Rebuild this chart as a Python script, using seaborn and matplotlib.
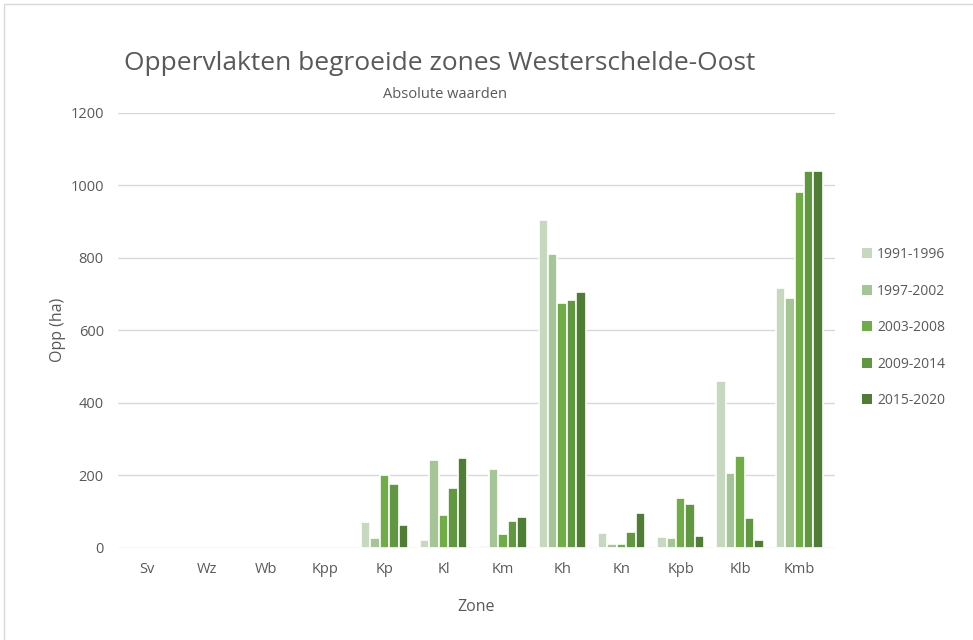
import pandas as pd
import matplotlib.pyplot as plt
import seaborn as sns
from matplotlib.patches import Rectangle

# Data
zones = ['Sv', 'Wz', 'Wb', 'Kpp', 'Kp', 'Kl', 'Km', 'Kh', 'Kn', 'Kpb', 'Klb', 'Kmb']
periods = ['1991-1996', '1997-2002', '2003-2008', '2009-2014', '2015-2020']
opp_1991 = [0, 0, 0, 0, 72, 21, 5, 905, 42, 31, 460, 716]
opp_1997 = [0, 0, 0, 0, 28, 243, 217, 810, 10, 27, 206, 688]
opp_2003 = [0, 0, 0, 0, 201, 91, 38, 676, 10, 138, 253, 982]
opp_2009 = [0, 0, 0, 0, 175, 164, 75, 683, 43, 121, 81, 1038]
opp_2015 = [0, 0, 0, 0, 64, 248, 85, 705, 96, 33, 22, 1038]
colors = ['#c6d8bd', '#a6c596', '#70ad47', '#5f9840', '#4e7d33']

series = [opp_1991, opp_1997, opp_2003, opp_2009, opp_2015]
rows = []
for period, vals in zip(periods, series):
    for z, v in zip(zones, vals):
        rows.append({'Zone': z, 'Periode': period, 'Opp': v})
df = pd.DataFrame(rows)

sns.set_style('white')
plt.rcParams['font.family'] = ['Open Sans', 'DejaVu Sans']
grey = '#595959'

fig = plt.figure(figsize=(9.73, 6.4), dpi=100)
ax = fig.add_axes([0.121, 0.144, 0.737, 0.680])

sns.barplot(data=df, x='Zone', y='Opp', hue='Periode', palette=colors,
            order=zones, hue_order=periods, width=0.8,
            edgecolor='white', linewidth=1.2, saturation=1, ax=ax)

ax.set_ylim(0, 1200)
ax.set_yticks(range(0, 1201, 200))
ax.set_xlim(-0.5, len(zones) - 0.4)
ax.grid(axis='y', color='#d9d9d9', linewidth=1)
ax.set_axisbelow(True)
for s in ax.spines.values():
    s.set_visible(False)
ax.tick_params(axis='both', length=0, labelsize=10.5, colors=grey, pad=10)
ax.set_xlabel('Zone', fontsize=11.5, color=grey, labelpad=16)
ax.set_ylabel('Opp (ha)', fontsize=11.5, color=grey, labelpad=3)

fig.text(0.452, 0.900, 'Oppervlakten begroeide zones Westerschelde-Oost',
         ha='center', va='center', fontsize=19, color=grey)
fig.text(0.457, 0.853, 'Absolute waarden', ha='center', va='center',
         fontsize=10.5, color=grey)

leg = ax.legend(title=None, loc='upper left', bbox_to_anchor=(1.02, 0.72),
                frameon=False, fontsize=10, labelspacing=1.55,
                handlelength=0.75, handleheight=0.75, handletextpad=0.35)
for t in leg.get_texts():
    t.set_color(grey)
for h in leg.legend_handles:
    h.set_edgecolor('none')

# geen randjes voor nul-waarden (na de legenda)
for p in ax.patches:
    if p.get_height() == 0:
        p.set_visible(False)

# lichte rand rond het grafiekgebied
fig.patches.append(Rectangle((0.004, -0.01), 1.2, 1.004,
                             transform=fig.transFigure, fill=False,
                             edgecolor='#d9d9d9', linewidth=1))

plt.savefig('out.png', dpi=100)
